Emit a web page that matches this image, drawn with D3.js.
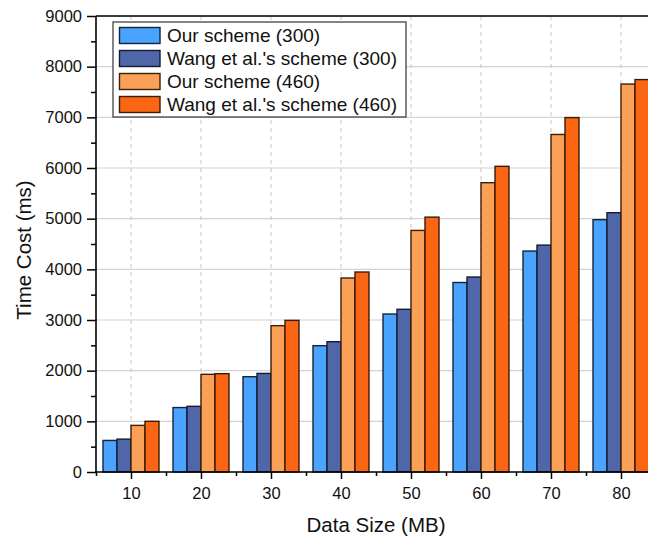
<!DOCTYPE html>
<html>
<head>
<meta charset="utf-8">
<script src="https://cdn.jsdelivr.net/npm/d3@7"></script>
<style>
    body { margin: 0; background: #fff; }
    svg { display: block; font-family: "Liberation Sans", Arial, sans-serif; }
</style>
</head>
<body>
<svg id="chart" width="648" height="539"></svg>
<script>
/*
 *** Chart data
 */
var dataSizes = [10, 20, 30, 40, 50, 60, 70, 80];
var seriesNames = ["Our scheme (300)", "Wang et al.'s scheme (300)", "Our scheme (460)", "Wang et al.'s scheme (460)"];
var ourScheme300 = [623, 1272, 1881, 2493, 3118, 3740, 4361, 4980];
var wangScheme300 = [649, 1296, 1946, 2572, 3211, 3848, 4478, 5118];
var ourScheme460 = [920, 1928, 2888, 3829, 4768, 5710, 6662, 7657];
var wangScheme460 = [1000, 1941, 2993, 3947, 5030, 6033, 6995, 7745];
var yTicks = [0, 1000, 2000, 3000, 4000, 5000, 6000, 7000, 8000, 9000];

var seriesValues = [ourScheme300, wangScheme300, ourScheme460, wangScheme460];
var fillColors = ["#4aa3ff", "#4f66a8", "#fba057", "#fa6614"];
var strokeColors = ["#14243a", "#141c33", "#3a200c", "#3a1a08"];

var svg = d3.select("#chart");
var plotLeft = 96, plotTop = 16, plotBottom = 472, plotRight = 656;

var x = d3.scaleLinear().domain([5, 85]).range([plotLeft, plotRight]);
var y = d3.scaleLinear().domain([0, 9000]).range([plotBottom, plotTop]);

// Grid lines
svg.append("g").selectAll("line")
    .data(yTicks.slice(1))
    .enter().append("line")
    .attr("x1", plotLeft).attr("x2", plotRight)
    .attr("y1", function(d){ return y(d); })
    .attr("y2", function(d){ return y(d); })
    .attr("stroke", "#d2d2d2").attr("stroke-width", 1.2);

svg.append("g").selectAll("line")
    .data(dataSizes)
    .enter().append("line")
    .attr("x1", function(d){ return x(d); })
    .attr("x2", function(d){ return x(d); })
    .attr("y1", plotTop).attr("y2", plotBottom)
    .attr("stroke", "#cfcfcf").attr("stroke-width", 1.2)
    .attr("stroke-dasharray", "4,4");

// Bars
var barWidth = x(2) - x(0);
seriesValues.forEach(function(values, s){
    svg.append("g").selectAll("rect")
        .data(values)
        .enter().append("rect")
        .attr("x", function(d, i){ return x(dataSizes[i] - 4 + 2 * s); })
        .attr("y", function(d){ return y(d); })
        .attr("width", barWidth)
        .attr("height", function(d){ return y(0) - y(d); })
        .attr("fill", fillColors[s])
        .attr("stroke", strokeColors[s])
        .attr("stroke-width", 1.4);
});

// Axes
var yAxis = d3.axisLeft(y).tickValues(yTicks).tickSize(9).tickPadding(5).tickFormat(d3.format("d"));
var yMinor = d3.axisLeft(y).tickValues(d3.range(500, 9000, 1000)).tickSize(5).tickFormat("");
var xAxis = d3.axisBottom(x).tickValues(dataSizes).tickSize(7).tickPadding(8).tickFormat(d3.format("d"));
var xMinor = d3.axisBottom(x).tickValues(d3.range(5, 85, 10)).tickSize(4).tickFormat("");

function styleAxis(g){
    g.select(".domain").remove();
    g.selectAll("line").attr("stroke", "#000").attr("stroke-width", 1.5);
    g.selectAll("text").attr("font-size", "16.5px").attr("fill", "#111")
        .attr("font-family", "Liberation Sans, Arial, sans-serif");
}

svg.append("g").attr("transform", "translate(" + plotLeft + ",0)").call(yAxis).call(styleAxis);
svg.append("g").attr("transform", "translate(" + plotLeft + ",0)").call(yMinor).call(styleAxis);
svg.append("g").attr("transform", "translate(0," + plotBottom + ")").call(xAxis).call(styleAxis);
svg.append("g").attr("transform", "translate(0," + plotBottom + ")").call(xMinor).call(styleAxis);

// Frame
svg.append("line").attr("x1", plotLeft).attr("x2", plotRight).attr("y1", plotTop).attr("y2", plotTop)
    .attr("stroke", "#000").attr("stroke-width", 1.6);
svg.append("line").attr("x1", plotLeft).attr("x2", plotLeft).attr("y1", plotTop).attr("y2", plotBottom + 0.8)
    .attr("stroke", "#000").attr("stroke-width", 1.6);
svg.append("line").attr("x1", plotLeft - 0.8).attr("x2", plotRight).attr("y1", plotBottom).attr("y2", plotBottom)
    .attr("stroke", "#000").attr("stroke-width", 1.6);

// Axis titles
svg.append("text")
    .attr("x", 376).attr("y", 532)
    .attr("text-anchor", "middle")
    .attr("font-size", "20.5px").attr("fill", "#111")
    .text("Data Size (MB)");

svg.append("text")
    .attr("transform", "translate(31,250) rotate(-90)")
    .attr("text-anchor", "middle")
    .attr("font-size", "20.5px").attr("fill", "#111")
    .text("Time Cost (ms)");

// Legend
var legend = svg.append("g").attr("transform", "translate(113,22)");
legend.append("rect")
    .attr("width", 293).attr("height", 95)
    .attr("fill", "#fff").attr("stroke", "#333").attr("stroke-width", 1.2);

var legendRows = legend.selectAll(".legendRow")
    .data(seriesNames)
    .enter().append("g")
    .attr("class", "legendRow")
    .attr("transform", function(d, i){ return "translate(0," + (5.5 + i * 23) + ")"; });

legendRows.append("rect")
    .attr("x", 6.5).attr("width", 40.5).attr("height", 16)
    .attr("fill", function(d, i){ return fillColors[i]; })
    .attr("stroke", function(d, i){ return strokeColors[i]; })
    .attr("stroke-width", 1.4);

legendRows.append("text")
    .attr("x", 54).attr("y", 14.5)
    .attr("font-size", "19px").attr("fill", "#111")
    .text(function(d){ return d; });
</script>
</body>
</html>
